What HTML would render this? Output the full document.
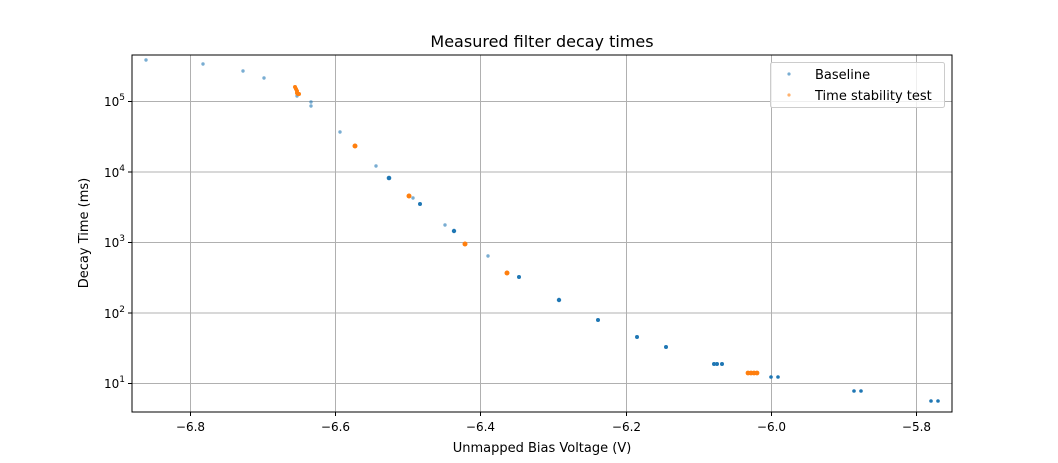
<!DOCTYPE html>
<html><head><style>body{margin:0;background:#fff}svg{display:block}text{font-family:"DejaVu Sans","Liberation Sans",sans-serif;fill:#000}</style></head><body>
<svg width="1058" height="463" xmlns="http://www.w3.org/2000/svg">
<rect width="1058" height="463" fill="#fff"/>
<text x="542" y="47" font-size="16" text-anchor="middle">Measured filter decay times</text>
<g stroke="#b0b0b0" stroke-width="1">
<line x1="190.5" y1="55" x2="190.5" y2="412"/><line x1="335.5" y1="55" x2="335.5" y2="412"/><line x1="480.5" y1="55" x2="480.5" y2="412"/><line x1="626.5" y1="55" x2="626.5" y2="412"/><line x1="771.5" y1="55" x2="771.5" y2="412"/><line x1="916.5" y1="55" x2="916.5" y2="412"/>
<line x1="132" y1="101.5" x2="952" y2="101.5"/><line x1="132" y1="172" x2="952" y2="172"/><line x1="132" y1="242.5" x2="952" y2="242.5"/><line x1="132" y1="313" x2="952" y2="313"/><line x1="132" y1="383.5" x2="952" y2="383.5"/>
</g>
<g stroke="#000" stroke-width="1">
<line x1="190.5" y1="412" x2="190.5" y2="416"/><line x1="335.5" y1="412" x2="335.5" y2="416"/><line x1="480.5" y1="412" x2="480.5" y2="416"/><line x1="626.5" y1="412" x2="626.5" y2="416"/><line x1="771.5" y1="412" x2="771.5" y2="416"/><line x1="916.5" y1="412" x2="916.5" y2="416"/>
<line x1="128" y1="101.5" x2="132" y2="101.5"/><line x1="128" y1="172" x2="132" y2="172"/><line x1="128" y1="242.5" x2="132" y2="242.5"/><line x1="128" y1="313" x2="132" y2="313"/><line x1="128" y1="383.5" x2="132" y2="383.5"/>
</g>
<g id="minor" stroke="#000" stroke-width="0.7"></g>
<g font-size="12" text-anchor="middle">
<text x="190.5" y="431">−6.8</text><text x="335.5" y="431">−6.6</text><text x="480.5" y="431">−6.4</text><text x="626.5" y="431">−6.2</text><text x="771.5" y="431">−6.0</text><text x="916.5" y="431">−5.8</text>
</g>
<g font-size="12" text-anchor="end">
<text x="125" y="106">10<tspan font-size="9" dy="-6">5</tspan></text>
<text x="125" y="177">10<tspan font-size="9" dy="-6">4</tspan></text>
<text x="125" y="247">10<tspan font-size="9" dy="-6">3</tspan></text>
<text x="125" y="318">10<tspan font-size="9" dy="-6">2</tspan></text>
<text x="125" y="388">10<tspan font-size="9" dy="-6">1</tspan></text>
</g>
<text x="542" y="452" font-size="13" text-anchor="middle">Unmapped Bias Voltage (V)</text>
<text transform="translate(88,233) rotate(-90)" font-size="13" text-anchor="middle">Decay Time (ms)</text>
<g fill="#1f77b4">
<g fill-opacity="0.6">
<circle cx="146" cy="60" r="1.7"/><circle cx="203" cy="64" r="1.7"/><circle cx="243" cy="71" r="1.7"/><circle cx="264" cy="78" r="1.7"/><circle cx="297" cy="96" r="1.7"/><circle cx="311" cy="102" r="1.7"/><circle cx="311" cy="106" r="1.7"/><circle cx="340" cy="132" r="1.7"/><circle cx="376" cy="166" r="1.7"/><circle cx="413" cy="198" r="1.7"/><circle cx="445" cy="225" r="1.7"/><circle cx="488" cy="256" r="1.7"/>
</g>
<circle cx="389" cy="178" r="2.3"/><circle cx="420" cy="204" r="2"/><circle cx="454" cy="231" r="2.2"/><circle cx="519" cy="277" r="2"/><circle cx="559" cy="300" r="2.2"/><circle cx="598" cy="320" r="2"/><circle cx="637" cy="337" r="2"/><circle cx="666" cy="347" r="2"/><circle cx="714" cy="364" r="2"/><circle cx="717" cy="364" r="2"/><circle cx="722" cy="364" r="2"/><circle cx="771" cy="377" r="1.8"/><circle cx="778" cy="377" r="1.8"/><circle cx="854" cy="391" r="1.8"/><circle cx="861" cy="391" r="1.8"/><circle cx="931" cy="401" r="1.8"/><circle cx="938" cy="401" r="1.8"/>
</g>
<g fill="#ff7f0e">
<circle cx="295" cy="87" r="2"/><circle cx="296" cy="89" r="2"/><circle cx="297" cy="91" r="2"/><circle cx="297" cy="93" r="2"/><circle cx="298" cy="94" r="2"/><circle cx="299" cy="94" r="2"/>
<circle cx="355" cy="146" r="2.5"/><circle cx="409" cy="196" r="2.5"/><circle cx="465" cy="244" r="2.5"/><circle cx="507" cy="273" r="2.5"/>
<circle cx="748" cy="373" r="2.4"/><circle cx="751" cy="373" r="2.4"/><circle cx="754" cy="373" r="2.4"/><circle cx="757" cy="373" r="2.4"/>
</g>
<rect x="132" y="55" width="820" height="357" fill="none" stroke="#000" stroke-width="1"/>
<rect x="770.5" y="62.5" width="174" height="45" fill="#fff" fill-opacity="0.8" stroke="#ccc" rx="2"/>
<circle cx="789" cy="74" r="1.6" fill="#1f77b4" fill-opacity="0.6"/>
<circle cx="789" cy="95" r="1.6" fill="#ff7f0e" fill-opacity="0.6"/>
<text x="815" y="79" font-size="13">Baseline</text>
<text x="815" y="100" font-size="13">Time stability test</text>
<script>
var g=document.getElementById('minor'),s='';
var bases=[454,383.5,313,242.5,172,101.5,31];
for(var i=0;i<bases.length;i++){for(var k=2;k<10;k++){var y=bases[i]-Math.log10(k)*70.5;if(y>55&&y<412)s+='<line x1="130" x2="132" y1="'+y+'" y2="'+y+'"/>';}}
g.innerHTML=s;
</script>
</svg>
</body></html>
